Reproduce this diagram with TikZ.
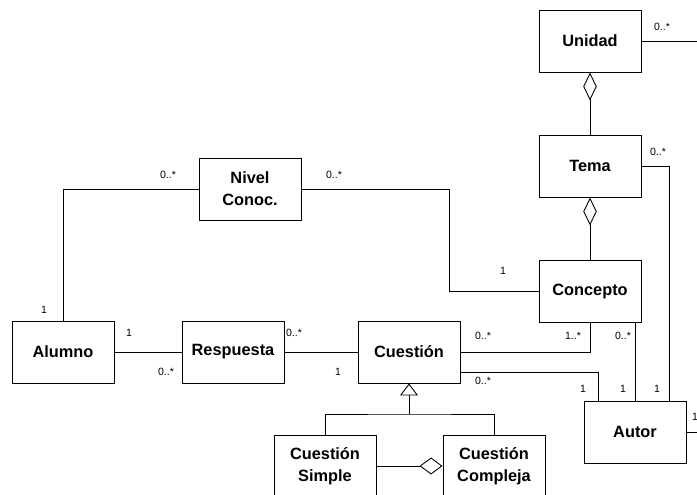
\documentclass[tikz,border=0pt]{standalone}
\usepackage{fontspec}
\setmainfont{Liberation Sans}
\usetikzlibrary{arrows.meta}
\begin{document}
\begin{tikzpicture}[x=0.02cm, y=-0.02cm,
    cls/.style={draw, line width=0.55pt, fill=white, minimum width=2.04cm, minimum height=1.24cm, inner sep=0pt, align=center, font=\fontsize{9.3}{12.5}\selectfont\bfseries},
    mult/.style={inner sep=0pt, font=\fontsize{6}{7}\selectfont},
    link/.style={line width=0.5pt},
    agg/.style={link, -{Diamond[fill=white, length=0.56cm, width=0.27cm]}},
    aggs/.style={link, -{Diamond[fill=white, length=0.46cm, width=0.34cm]}},
    gen/.style={link, -{Triangle[fill=white, length=0.24cm, width=0.36cm]}}
]
    \useasboundingbox (0,0) rectangle (697,494);
    \clip (0,0) rectangle (697,494);

    \node[cls] (unidad) at (590,41) {Unidad};
    \node[cls] (tema) at (590,166) {Tema};
    \node[cls] (concepto) at (590,291) {Concepto};
    \node[cls] (nivel) at (250,189) {Nivel\\Conoc.};
    \node[cls] (alumno) at (63,352) {Alumno};
    \node[cls] (respuesta) at (233,352) {Respuesta};
    \node[cls] (cuestion) at (409,352) {Cuestión};
    \node[cls] (autor) at (635,432) {Autor};
    \node[cls] (simple) at (325,466) {Cuestión\\Simple};
    \node[cls] (compleja) at (494,466) {Cuestión\\Compleja};

    \coordinate (unidadR) at (697,41);
    \coordinate (autorR) at (697,432);
    \coordinate (genpt) at (409,414);

    % agregaciones
    \draw[agg] (tema) -- (unidad);
    \draw[agg] (concepto) -- (tema);
    \draw[aggs] (simple) -- (compleja);

    % herencia
    \draw[gen] (genpt) -- (cuestion.south);
    \draw[link] (simple.north) |- (genpt) -| (compleja.north);

    % asociaciones
    \draw[link] (unidad.east) -- (unidadR);
    \draw[link] (autor.east) -- (autorR);
    \draw[link] (tema.east) -| ([xshift=0.68cm]autor.north);
    \draw[link] (autor.north |- concepto.south) -- (autor.north);
    \draw[link] (cuestion.east) -| (concepto.south);
    \draw[link] ([yshift=-0.4cm]cuestion.east) -| ([xshift=-0.74cm]autor.north);
    \draw[link] (concepto.west) -- ++(-89,0) |- (nivel.east);
    \draw[link] (nivel.west) -| (alumno.north);
    \draw[link] (alumno) -- (respuesta);
    \draw[link] (respuesta) -- (cuestion);

    % multiplicidades
    \node[mult] (mUnidad) at (662,27) {0..*};
    \node[mult] (mTema) at (658,152) {0..*};
    \node[mult] (mConcNivel) at (503,271) {1};
    \node[mult] (mNivelIzq) at (168,175) {0..*};
    \node[mult] (mNivelDer) at (334,175) {0..*};
    \node[mult] (mAlumnoSup) at (44,310) {1};
    \node[mult] (mAlumnoDer) at (129,333) {1};
    \node[mult] (mRespIzq) at (166,372) {0..*};
    \node[mult] (mRespDer) at (294,333) {0..*};
    \node[mult] (mCuesIzq) at (338,372) {1};
    \node[mult] (mCuesConc) at (483,336) {0..*};
    \node[mult] (mConcCues) at (573,336) {1..*};
    \node[mult] (mConcAutor) at (623,336) {0..*};
    \node[mult] (mCuesAutor) at (483,381) {0..*};
    \node[mult] (mAutorA) at (583,389) {1};
    \node[mult] (mAutorB) at (623,389) {1};
    \node[mult] (mAutorC) at (657,389) {1};
    \node[mult] (mAutorD) at (695,417) {1};
\end{tikzpicture}
\end{document}
